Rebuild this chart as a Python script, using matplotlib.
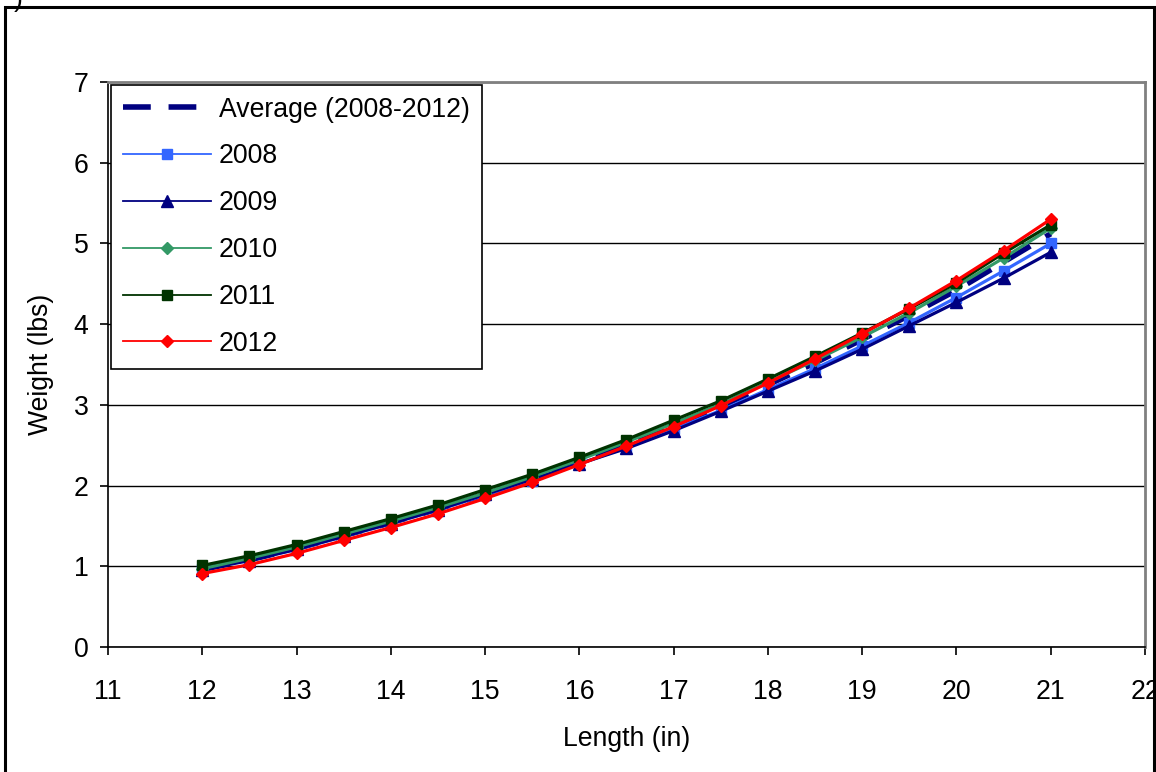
import matplotlib
matplotlib.use("Agg")
import matplotlib.pyplot as plt
from matplotlib.patches import Rectangle

plt.rcParams['font.family'] = ['Liberation Sans', 'DejaVu Sans']

# lengths (in) and mean weights (lbs) per year
length = [12, 12.5, 13, 13.5, 14, 14.5, 15, 15.5, 16, 16.5,
          17, 17.5, 18, 18.5, 19, 19.5, 20, 20.5, 21]
w_avg = [0.96, 1.08, 1.22, 1.38, 1.54, 1.71, 1.89, 2.09, 2.29, 2.51,
         2.74, 2.98, 3.25, 3.52, 3.81, 4.11, 4.42, 4.77, 5.12]
w_2008 = [0.97, 1.08, 1.21, 1.37, 1.53, 1.70, 1.88, 2.06, 2.27, 2.47,
          2.70, 2.93, 3.19, 3.45, 3.73, 4.02, 4.33, 4.66, 5.00]
w_2009 = [0.96, 1.07, 1.21, 1.37, 1.53, 1.70, 1.89, 2.08, 2.27, 2.46,
          2.68, 2.92, 3.17, 3.42, 3.69, 3.98, 4.27, 4.57, 4.89]
w_2010 = [0.97, 1.10, 1.24, 1.40, 1.56, 1.73, 1.91, 2.11, 2.32, 2.54,
          2.77, 3.01, 3.28, 3.55, 3.84, 4.14, 4.47, 4.82, 5.19]
w_2011 = [1.01, 1.13, 1.27, 1.43, 1.59, 1.76, 1.95, 2.14, 2.35, 2.57,
          2.81, 3.05, 3.32, 3.60, 3.89, 4.19, 4.51, 4.88, 5.23]
w_2012 = [0.91, 1.02, 1.16, 1.32, 1.48, 1.65, 1.84, 2.04, 2.26, 2.49,
          2.73, 2.99, 3.27, 3.57, 3.88, 4.20, 4.54, 4.91, 5.30]

FS = 19.2

fig = plt.figure(figsize=(11.56, 7.72), dpi=100)
ax = fig.add_axes([0.0934, 0.1619, 0.8971, 0.7319])

ax.plot(length, w_avg, color='#000080', lw=4, dashes=(5, 3.2),
        label='Average (2008-2012)', zorder=3)
ax.plot(length, w_2008, color='#3366FF', lw=2.3, marker='s', ms=7,
        label='2008', zorder=4)
ax.plot(length, w_2009, color='#000080', lw=2.3, marker='^', ms=8,
        label='2009', zorder=4)
ax.plot(length, w_2010, color='#339966', lw=2.3, marker='D', ms=6,
        label='2010', zorder=4)
ax.plot(length, w_2011, color='#003300', lw=2.3, marker='s', ms=7,
        label='2011', zorder=4)
ax.plot(length, w_2012, color='#FF0000', lw=2.3, marker='D', ms=6.5,
        label='2012', zorder=5)

ax.set_xlim(11, 22)
ax.set_ylim(0, 7)
ax.set_xticks(range(11, 23))
ax.set_yticks(range(0, 8))
ax.yaxis.grid(True, color='black', lw=1)
ax.set_axisbelow(True)

for side in ('top', 'right'):
    ax.spines[side].set_color('#808080')
    ax.spines[side].set_linewidth(2)
for side in ('left', 'bottom'):
    ax.spines[side].set_color('black')
    ax.spines[side].set_linewidth(1.2)

ax.tick_params(direction='out', length=6, width=1.2, labelsize=FS,
               pad=8)
ax.tick_params(axis='x', pad=17)
ax.set_xlabel('Length (in)', fontsize=FS, labelpad=15)
ax.set_ylabel('Weight (lbs)', fontsize=FS, labelpad=14)

leg = ax.legend(loc='upper left', fontsize=FS, numpoints=1,
                handlelength=3.3, handletextpad=0.3, labelspacing=0.78,
                borderpad=0.45, borderaxespad=0.1, fancybox=False,
                framealpha=1, edgecolor='black')
leg.get_frame().set_linewidth(1.2)
# legend swatches use thinner strokes than the plotted series
for handle in leg.get_lines()[1:]:
    handle.set_linewidth(1.3)

# outer chart frame and clipped caption remnant
fig.add_artist(Rectangle((5 / 1156, -0.1), 1149 / 1156, 0.9909 + 0.1,
                         transform=fig.transFigure, fill=False,
                         lw=2.2, ec='black'))
fig.text(0.016, 1.0, ')', fontsize=19, va='center', ha='center')

fig.savefig('out.png', dpi=100)
